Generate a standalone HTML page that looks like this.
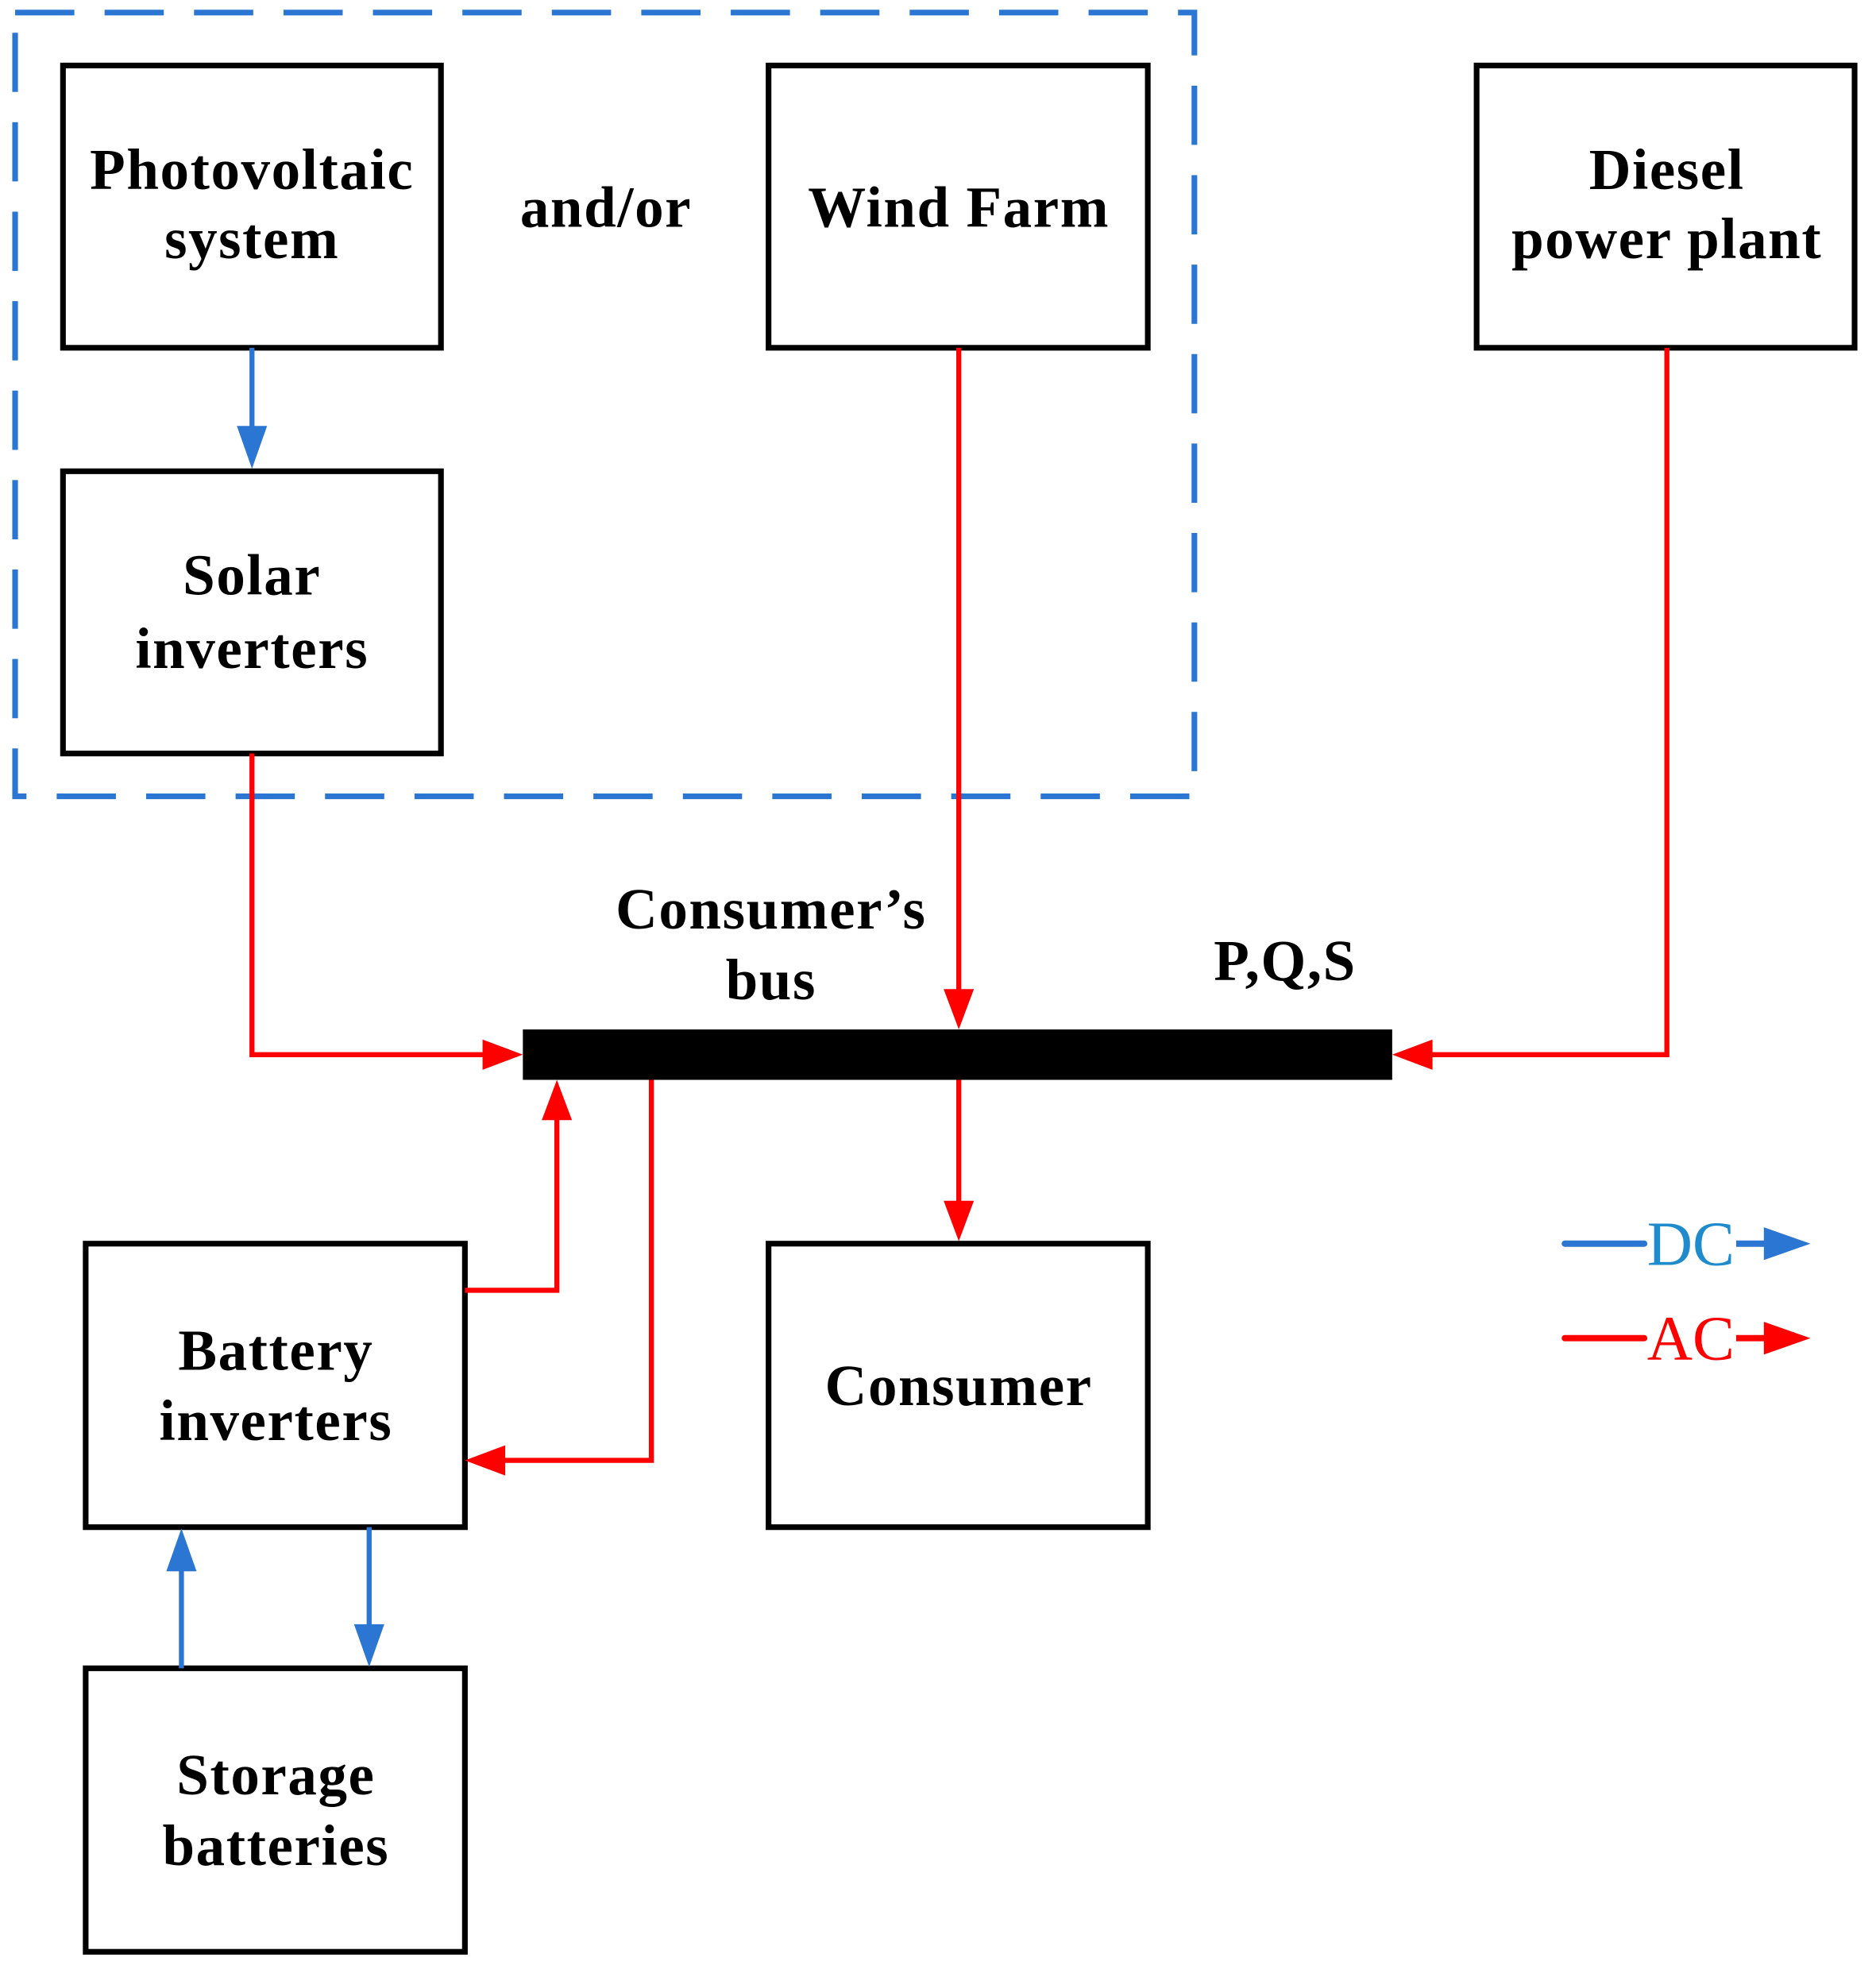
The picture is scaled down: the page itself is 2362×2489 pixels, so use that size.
<!DOCTYPE html>
<html><head><style>html,body{margin:0;padding:0;background:#fff;}svg{display:block}</style></head>
<body>
<svg width="2362" height="2489" viewBox="0 0 1489 1569" preserveAspectRatio="none" xmlns="http://www.w3.org/2000/svg">
<rect x="12" y="10" width="936" height="622" fill="none" stroke="#2a76d2" stroke-width="4.5" stroke-dasharray="47,24"/>
<g fill="#fff" stroke="#000" stroke-width="4.5">
<rect x="50" y="52" width="300" height="224"/>
<rect x="610" y="52" width="301" height="224"/>
<rect x="1172" y="52" width="300" height="224"/>
<rect x="50" y="374" width="300" height="224"/>
<rect x="68" y="987" width="301" height="225"/>
<rect x="610" y="987" width="301" height="225"/>
<rect x="68" y="1324" width="301" height="225"/>
</g>
<rect x="415" y="817" width="690" height="40" fill="#000"/>
<g fill="none" stroke="#ff0000" stroke-width="4">
<polyline points="200,598 200,837 390,837"/>
<line x1="761" y1="276" x2="761" y2="792"/>
<polyline points="1323,276 1323,837 1130,837"/>
<line x1="761" y1="857" x2="761" y2="960"/>
<polyline points="369,1024 442,1024 442,882"/>
<polyline points="517,857 517,1159 394,1159"/>
<line x1="1242" y1="1062" x2="1305" y2="1062" stroke-width="5" stroke-linecap="round"/>
<line x1="1378" y1="1062" x2="1405" y2="1062" stroke-width="5"/>
</g>
<g fill="#ff0000">
<polygon points="415,837 383,825 383,849"/>
<polygon points="761,817 749,785 773,785"/>
<polygon points="1105,837 1137,825 1137,849"/>
<polygon points="761,985 749,953 773,953"/>
<polygon points="442,857 430,889 454,889"/>
<polygon points="369,1159 401,1147 401,1171"/>
<polygon points="1437,1062 1400,1049 1400,1075"/>
</g>
<g fill="none" stroke="#2a76d2" stroke-width="4">
<line x1="200" y1="276" x2="200" y2="345"/>
<line x1="144" y1="1324" x2="144" y2="1240"/>
<line x1="293" y1="1212" x2="293" y2="1296"/>
<line x1="1242" y1="987" x2="1305" y2="987" stroke-width="5" stroke-linecap="round"/>
<line x1="1378" y1="987" x2="1405" y2="987" stroke-width="5"/>
</g>
<g fill="#2a76d2">
<polygon points="200,372 188,338 212,338"/>
<polygon points="144,1213 132,1247 156,1247"/>
<polygon points="293,1323 281,1289 305,1289"/>
<polygon points="1437,987 1400,974 1400,1000"/>
</g>
<g font-family="'Liberation Serif', serif" font-weight="bold" font-size="46" text-anchor="middle" fill="#000" letter-spacing="1">
<text x="200" y="150">Photovoltaic</text>
<text x="200" y="205">system</text>
<text x="481" y="180">and/or</text>
<text x="761" y="180">Wind Farm</text>
<text x="1323" y="150">Diesel</text>
<text x="1323" y="205">power plant</text>
<text x="200" y="472">Solar</text>
<text x="200" y="530">inverters</text>
<text x="612" y="737">Consumer’s</text>
<text x="612" y="793">bus</text>
<text x="1020" y="778">P,Q,S</text>
<text x="219" y="1087">Battery</text>
<text x="219" y="1143">inverters</text>
<text x="761" y="1115">Consumer</text>
<text x="219" y="1424">Storage</text>
<text x="219" y="1480">batteries</text>
</g>
<g font-family="'Liberation Serif', serif" font-size="50" text-anchor="middle">
<text x="1342" y="1004" fill="#1e8ccc">DC</text>
<text x="1342" y="1079" fill="#ff0000">AC</text>
</g>
</svg>
</body></html>
